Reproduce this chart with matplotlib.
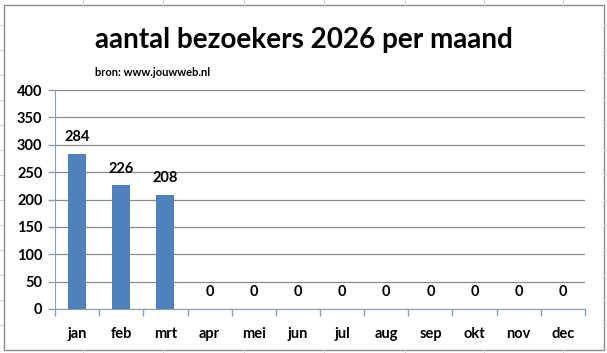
import matplotlib
matplotlib.use("Agg")
import matplotlib.pyplot as plt
from matplotlib.patches import Rectangle
from matplotlib.lines import Line2D

months = ["jan", "feb", "mrt", "apr", "mei", "jun", "jul", "aug", "sep", "okt", "nov", "dec"]
visitors = [284, 226, 208, 0, 0, 0, 0, 0, 0, 0, 0, 0]
yticks = [0, 50, 100, 150, 200, 250, 300, 350, 400]
title = "aantal bezoekers 2026 per maand"
subtitle = "bron: www.jouwweb.nl"

plt.rcParams['font.family'] = ['Lato', 'DejaVu Sans']
W, H = 607, 353
fig = plt.figure(figsize=(W / 100, H / 100), dpi=100)
fig.patch.set_facecolor("white")

# excel-like surroundings: cell grid lines and chart border
for xc in [83, 163, 244, 324, 405, 484, 563]:
    fig.add_artist(Line2D([xc / W, xc / W], [1 - 4.5 / H, 1], color="#d4d4d4", lw=0.8))
    fig.add_artist(Line2D([xc / W, xc / W], [0, 1 - 350 / H], color="#d4d4d4", lw=0.8))
for yc in [25, 50, 75, 100, 125, 150, 175, 200, 225, 250, 275, 300, 325]:
    fig.add_artist(Line2D([0, 3 / W], [1 - yc / H, 1 - yc / H], color="#d4d4d4", lw=0.8))
    fig.add_artist(Line2D([604 / W, 1], [1 - yc / H, 1 - yc / H], color="#d4d4d4", lw=0.8))
fig.add_artist(Rectangle((3.5 / W, 1 - 350 / H), 600.5 / W, 345.5 / H, transform=fig.transFigure,
                         fill=False, edgecolor="#8c8c8c", lw=1.0))

left, right, top, bottom = 55, 585, 90, 309
ax = fig.add_axes([left / W, 1 - bottom / H, (right - left) / W, (bottom - top) / H])
ax.set_facecolor("white")

x = list(range(len(months)))
ax.bar(x, visitors, width=0.41, color="#4f81bd", zorder=3)
ax.set_xlim(-0.5, len(months) - 0.5)
ax.set_ylim(0, 400)
ax.set_yticks(yticks)
ax.set_yticklabels([str(v) for v in yticks], fontsize=10.5, fontweight="bold")
ax.set_xticks(x)
ax.set_xticklabels(months, fontsize=10.5, fontweight="bold")
ax.tick_params(axis="x", length=0, pad=13)
ax.tick_params(axis="y", length=5, width=1, color="#8aa0b8", pad=4)
ax.set_xticks([i + 0.5 for i in range(-1, len(months))], minor=True)
ax.tick_params(axis="x", which="minor", length=5, width=1, color="#8aa0b8")
ax.grid(axis="y", color="#8c8c8c", lw=0.9, zorder=0)
for s in ["top", "right"]:
    ax.spines[s].set_visible(False)
ax.spines["left"].set_color("#8aa0b8")
ax.spines["bottom"].set_color("#8aa0b8")

for xi, v in zip(x, visitors):
    ax.annotate(str(v), (xi, v), xytext=(0, 7), textcoords="offset points",
                ha="center", va="bottom", fontsize=10.5, fontweight="bold")

fig.text(95 / W, 1 - 40 / H, title, fontsize=20.1, fontweight="bold", va="center", ha="left")
fig.text(95 / W, 1 - 72 / H, subtitle, fontsize=8, fontweight="bold", va="center", ha="left")

fig.savefig("out.png", dpi=100)
